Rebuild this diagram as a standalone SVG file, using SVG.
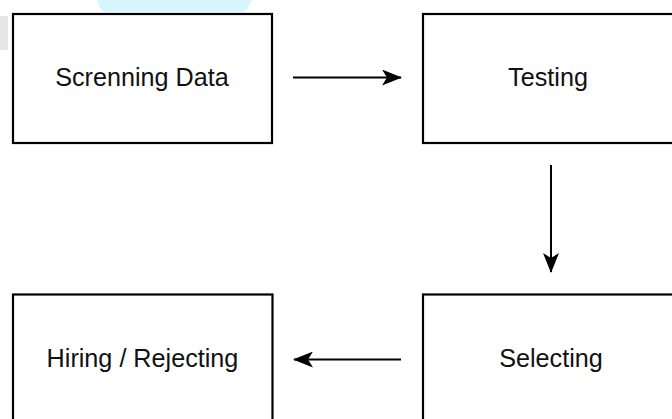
<svg xmlns="http://www.w3.org/2000/svg" width="672" height="419" viewBox="0 0 672 419">
<defs>
<style>
.box{fill:#ffffff;stroke:#000000;stroke-width:2.2}
.lbl{font-family:"Liberation Sans",Arial,Helvetica,sans-serif;font-size:25.2px;fill:#111111;text-anchor:middle}
.conn{stroke:#000000;stroke-width:2;fill:none}
</style>
<marker id="arr" viewBox="0 0 20 16" refX="19" refY="8" markerWidth="20" markerHeight="16" markerUnits="userSpaceOnUse" orient="auto">
<path d="M0,0 L20,8 L0,16 L5,8 Z" fill="#000000"/>
</marker>
</defs>
<rect width="672" height="419" fill="#ffffff"/>
<path d="M97,0 L252,0 L248,8 Q246,12 240,12 L108,12 Q102,12 100,8 Z" fill="#d6f5fd"/>
<rect x="0" y="16" width="8" height="34" fill="#e6e6e6"/>
<g id="node-screening">
<rect class="box" x="13" y="14" width="259" height="129"/>
<text class="lbl" x="142" y="86">Screnning Data</text>
</g>
<g id="node-testing">
<rect class="box" x="423" y="14" width="262" height="129"/>
<text class="lbl" x="548" y="86">Testing</text>
</g>
<g id="node-selecting">
<rect class="box" x="423" y="294.5" width="262" height="140"/>
<text class="lbl" x="551" y="367">Selecting</text>
</g>
<g id="node-hiring">
<rect class="box" x="13" y="294.5" width="259.5" height="140"/>
<text class="lbl" x="142.5" y="367">Hiring / Rejecting</text>
</g>
<g id="connectors">
<line class="conn" x1="293" y1="77.5" x2="401" y2="77.5" marker-end="url(#arr)"/>
<line class="conn" x1="551" y1="165" x2="551" y2="272" marker-end="url(#arr)"/>
<line class="conn" x1="401" y1="359.5" x2="294" y2="359.5" marker-end="url(#arr)"/>
</g>
</svg>
